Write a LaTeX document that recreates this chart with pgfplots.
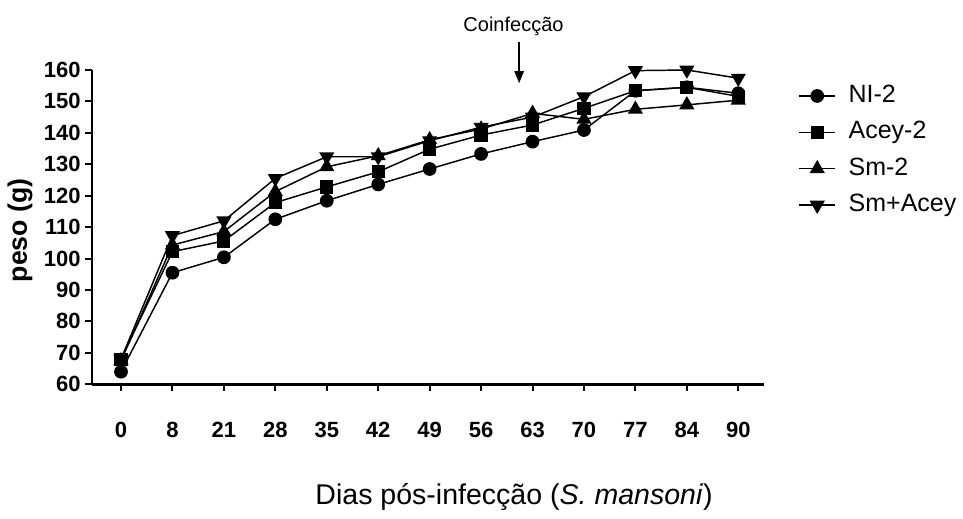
\documentclass[border=0pt]{standalone}
\usepackage{pgfplots}
\pgfplotsset{compat=1.18}
\usepackage{fontspec}
\setmainfont{Liberation Sans}
\usetikzlibrary{arrows.meta}

\begin{document}
\begin{tikzpicture}
\useasboundingbox (0,0) rectangle (722.25pt,388.5pt);
\begin{axis}[
  at={(69pt,100.3pt)}, anchor=south west,
  scale only axis, width=504pt, height=235.7pt,
  xmin=-0.564, xmax=12.5, ymin=60, ymax=160,
  clip=false,
  axis lines=left,
  axis line style={-, line width=2pt},
  xtick={0,...,12},
  xticklabels={0,8,21,28,35,42,49,56,63,70,77,84,90},
  ytick={60,70,...,160},
  tick align=outside, major tick length=5pt,
  tick style={line width=1.5pt, black},
  /pgf/number format/assume math mode=true,
  ticklabel style={font=\bfseries\fontsize{16.5}{18}\selectfont},
  xticklabel style={yshift=-20pt},
  ylabel={peso (g)},
  ylabel style={font=\bfseries\fontsize{20}{24}\selectfont,
    at={(axis description cs:-0.107,0.49)}, anchor=center},
  xlabel={Dias pós-infecção (\textit{S. mansoni})},
  xlabel style={font=\fontsize{21.4}{26}\selectfont,
    at={(axis description cs:0.628,-0.359)}, anchor=center},
  legend style={at={(1.045,0.965)}, anchor=north west, draw=none, fill=none,
    font=\fontsize{18.75}{22}\selectfont, row sep=9.3pt, column sep=9.5pt,
    nodes={inner sep=0pt, text height=14pt, text depth=4pt}},
  legend cell align=left,
  legend image code/.code={%
    \draw[mark repeat=2,mark phase=2,#1] plot coordinates {(0pt,0pt) (13.5pt,0pt) (27pt,0pt)};},
  every axis plot/.append style={black, line width=1.1pt, mark options={solid, fill=black}},
]
% NI-2
\addplot[mark=*, mark size=4.6pt] coordinates {
  (0,64) (1,95.5) (2,100.4) (3,112.5) (4,118.4) (5,123.6) (6,128.5)
  (7,133.3) (8,137.2) (9,140.9) (10,153.4) (11,154.5) (12,152.6)};
% Acey-2
\addplot[mark=square*, mark size=4.4pt] coordinates {
  (0,68) (1,102.2) (2,105.6) (3,117.8) (4,122.8) (5,127.6) (6,134.8)
  (7,139.3) (8,142.5) (9,147.8) (10,153.4) (11,154.5) (12,151.6)};
% Sm-2
\addplot[mark=triangle*, mark size=5.5pt] coordinates {
  (0,67.5) (1,104.3) (2,108.6) (3,121.3) (4,129.2) (5,132.7) (6,137.8)
  (7,141.2) (8,146.2) (9,144.3) (10,147.5) (11,148.9) (12,150.4)};
% Sm+Acey
\addplot[mark=triangle*, mark size=5.5pt, mark options={rotate=180}] coordinates {
  (0,68) (1,107.3) (2,112) (3,125.5) (4,132.4) (5,132.4) (6,137.5)
  (7,141.8) (8,145) (9,151.5) (10,159.8) (11,160) (12,157.4)};
\legend{NI-2, Acey-2, Sm-2, Sm+Acey}

% time of coinfection
\node[font=\fontsize{15}{18}\selectfont, anchor=base] at (axis cs:7.63,172.1) {Coinfecção};
\draw[line width=1pt, -{Triangle[length=9pt,width=7pt]}] (axis cs:7.74,169) -- (axis cs:7.74,155.8);
\end{axis}
\end{tikzpicture}
\end{document}
